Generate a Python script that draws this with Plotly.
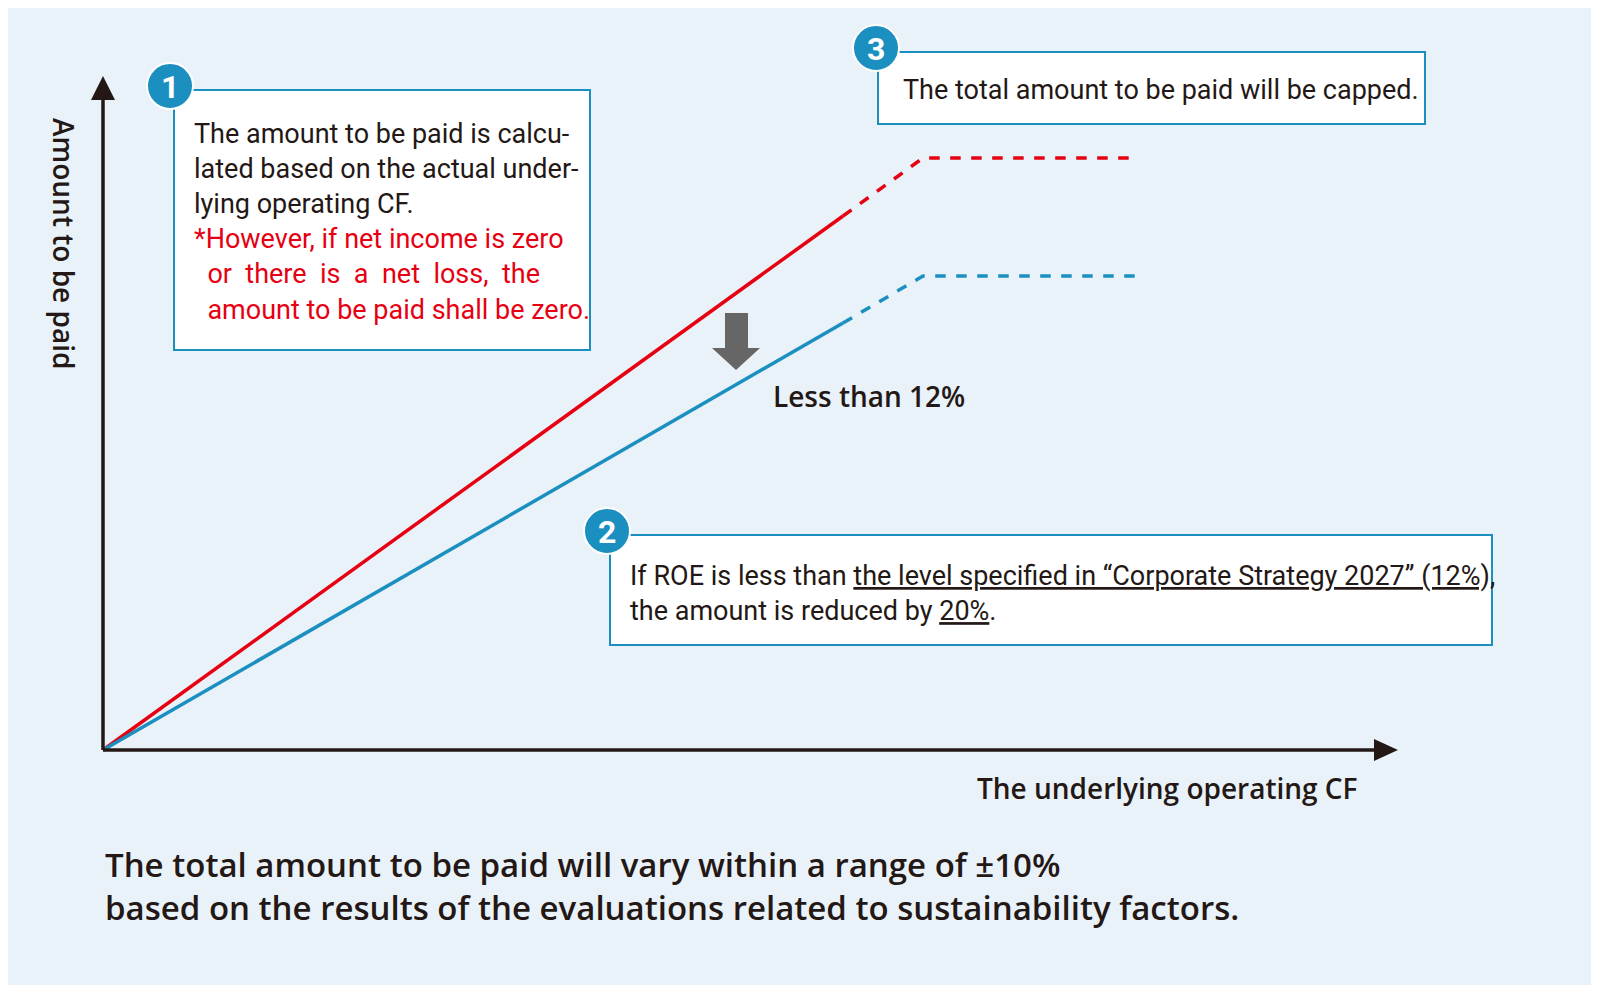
import plotly.graph_objects as go

# data (pixel-space conceptual diagram)
red_solid_x = [95, 835]; red_solid_y = [742, 208]
red_dash_x = [835, 915, 1128]; red_dash_y = [208, 150, 150]
blue_solid_x = [95, 835]; blue_solid_y = [742, 315]
blue_dash_x = [835, 915, 1128]; blue_dash_y = [315, 268, 268]

RED = "#e60012"; BLUE = "#1a8fc0"; BG = "#eaf2f9"
FONT = "Roboto"
FONT2 = "Open Sans"

fig = go.Figure()
fig.add_trace(go.Scatter(x=red_solid_x, y=red_solid_y, mode="lines", line=dict(color=RED, width=3.5)))
fig.add_trace(go.Scatter(x=red_dash_x, y=red_dash_y, mode="lines", line=dict(color=RED, width=3.5, dash="dash")))
fig.add_trace(go.Scatter(x=blue_solid_x, y=blue_solid_y, mode="lines", line=dict(color=BLUE, width=3.5)))
fig.add_trace(go.Scatter(x=blue_dash_x, y=blue_dash_y, mode="lines", line=dict(color=BLUE, width=3.5, dash="dash")))

shapes = []
shapes.append(dict(type="line", x0=95, y0=742, x1=95, y1=85, line=dict(color="#231815", width=3.5)))
shapes.append(dict(type="line", x0=95, y0=742, x1=1370, y1=742, line=dict(color="#231815", width=3.5)))
shapes.append(dict(type="path", path="M 83 92 L 95 68 L 107 92 Z", fillcolor="#231815", line=dict(width=0)))
shapes.append(dict(type="path", path="M 1366 731 L 1390 742 L 1366 753 Z", fillcolor="#231815", line=dict(width=0)))
for x0, y0, x1, y1 in [(166, 82, 582, 342), (870, 44, 1417, 116), (602, 527, 1484, 637)]:
    shapes.append(dict(type="rect", x0=x0, y0=y0, x1=x1, y1=y1, fillcolor="white", line=dict(color=BLUE, width=2)))
for cx, cy in [(162, 78), (868, 40), (599, 523)]:
    shapes.append(dict(type="circle", x0=cx-23, y0=cy-23, x1=cx+23, y1=cy+23, fillcolor=BLUE, line=dict(color="white", width=2)))
shapes.append(dict(type="path", path="M 717 305 L 740 305 L 740 340 L 752 340 L 728 362 L 704 340 L 717 340 Z",
                   fillcolor="#666666", line=dict(width=0)))
fig.update_layout(shapes=shapes)

ann = []
def t(x, y, text, size=26, color="#231815", xa="left", ya="middle", family=FONT, weight="normal", **kw):
    ann.append(dict(x=x, y=y, text=text, showarrow=False, xanchor=xa, yanchor=ya,
                    font=dict(family=family, size=size, color=color, weight=weight), **kw))

for (cx, cy), n in zip([(162, 78), (868, 40), (599, 523)], ["1", "3", "2"]):
    t(cx, cy + 1, "<b>" + n + "</b>", size=32, color="white", xa="center")

t(184, 214, "The amount to be paid is calcu-<br>lated based on the actual under-<br>lying operating CF.<br>"
  f"<span style='color:{RED}'>*However, if net income is zero<br>  or  there  is  a  net  loss,  the<br>  amount to be paid shall be zero.</span>",
  size=27, align="left")
t(893, 82, "The total amount to be paid will be capped.", size=27)
t(620, 585, "If ROE is less than <span style='text-decoration:underline'>the level specified in “Corporate Strategy 2027” (12%),</span><br>"
  "the amount is reduced by <span style='text-decoration:underline'>20%</span>.", size=27, align="left")
t(763, 388, "Less than 12%", size=28, family=FONT2, weight=600)
t(1352, 780, "The underlying operating CF", size=28, xa="right", family=FONT2, weight=600)
t(56, 235, "Amount to be paid", size=28, xa="center", textangle=90, family=FONT2, weight=600)
t(95, 878, "The total amount to be paid will vary within a range of ±10%<br>based on the results of the evaluations related to sustainability factors.",
  size=33, align="left", family=FONT2, weight=600)
fig.update_layout(annotations=ann)

fig.update_layout(width=1599, height=985, margin=dict(l=0, r=0, t=0, b=0),
                  paper_bgcolor=BG, plot_bgcolor=BG, showlegend=False,
                  xaxis=dict(range=[0, 1599], visible=False, fixedrange=True),
                  yaxis=dict(range=[985, 0], visible=False, fixedrange=True))
fig.write_html("out.html", config={"displayModeBar": False})
